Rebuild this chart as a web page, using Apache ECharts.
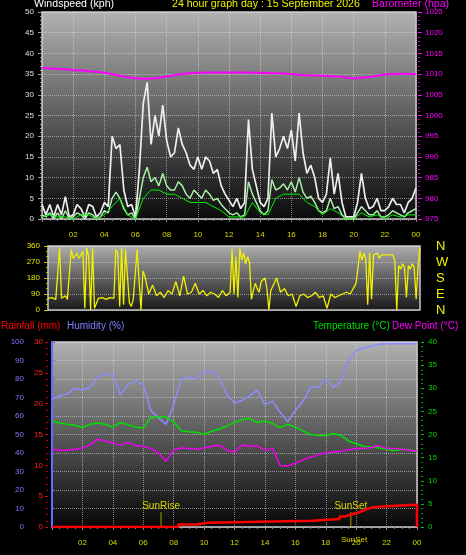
<!DOCTYPE html>
<html><head><meta charset="utf-8">
<script src="https://cdn.jsdelivr.net/npm/echarts@6/dist/echarts.min.js"></script>
<style>html,body{margin:0;padding:0;background:#000;}#c{width:466px;height:555px;}</style>
</head><body><div id="c"></div>
<script>
// ---- Data (hours of day) ----
const gustTimes = Array.from({length: 97}, (_, i) => i / 4);
const windGust = [3.5,1,3.5,0.5,3.5,1,5.4,0.5, 1,3.5,2.5,0.5,3.5,3,0.5,1.5, 4,3,20,17,18,7,3,3.5,
  0.5,12,28,33,18,25,20,27.5, 19,15,16,22,18,16,13,12, 15,12,15,14,11,12,8,6,
  4.5,3,5,2.5,4,24,12,8, 4,3,5,25.6,15,17,20,17, 21.5,14,25.6,16,11,13,10,5,
  4,6,14.7,6,11,4,0.5,0.5, 0.5,4,11,5,2.5,3,5,2, 2,3,5,3.5,3.5,1.5,4,5, 7.5];
const windAvg = [1,0.5,1.5,0,1.5,0,2,0, 0.5,1.5,1,0,1.5,1,0,0.5, 2,1.5,5,6.5,5,2.5,1,1.5,
  0,5,10,12.5,9,10,8,11, 8,7,7,9,8,6,5,7, 6,5,7,6,4.5,5,3.5,2.5,
  1.5,1,1.5,0.5,1,9,6,4, 2,1,2,9.5,7,7.5,8.5,7, 9,6.5,10,6.5,5,5.5,4,2,
  1.5,2,5,2.5,3,1,0,0, 0,1.5,3,2,1,1,2,0.5, 0.5,1,2,1.5,1,0.5,1.5,2, 2.5];
const halfTimes = Array.from({length: 49}, (_, i) => i / 2);
const windSustained = [0.5,1,0.5,0.5,0,1,1,0,1,3,5,1,0,5,7,7,6,6,5,4,4,4,3,2,0.5,0.5,0.5,4,1.5,1,
  5,6,6,6,4,3,1,2.5,1.5,0,0,1.5,0.5,1,0,1,0.5,1,1];
const hourTimes = Array.from({length: 25}, (_, i) => i);
const barometer = [1011.5,1011.3,1011.0,1010.7,1010.3,1009.6,1009.0,1008.9,1009.4,1010.0,1010.3,1010.4,
  1010.4,1010.4,1010.3,1010.2,1010.0,1009.7,1009.6,1009.4,1009.0,1009.3,1009.9,1010.1,1010.0];
const dirTimes = [0,0.125,0.25,0.375,0.5,0.625,0.75,0.875,1,1.125,1.25,1.375,1.5,1.625,1.75,1.875,
  2,2.125,2.25,2.375,2.5,2.625,2.75,2.875,3,3.25,3.5,3.75,4,4.25,4.375,4.5,4.625,4.75,4.875,
  5,5.125,5.25,5.375,5.5,5.625,5.75,5.875,6,6.125,6.25,
  6.5,6.75,7,7.25,7.5,7.75,8,8.25,8.5,8.75,9,9.25,9.5,9.75,10,10.25,10.5,10.75,11,11.25,11.5,11.75,
  11.875,12,12.125,12.25,12.375,12.5,12.625,12.75,12.875,13,13.125,13.25,13.375,13.5,13.625,13.75,
  13.875,14,14.125,14.25,14.375,14.5,
  14.75,15,15.25,15.5,15.75,16,16.25,16.5,16.75,17,17.25,17.5,17.75,18,18.25,18.5,18.75,19,19.25,19.5,
  19.75,19.875,20,20.125,20.25,20.375,20.5,20.625,20.75,20.875,21,21.125,21.25,21.375,21.5,22,22.25,
  22.375,22.5,22.625,22.75,22.875,23,23.125,23.25,23.375,23.5,23.625,23.75,23.875,24];
const windDir = [66,60,70,66,60,70,350,66,70,80,60,70,340,290,300,320,
  290,310,330,10,350,300,0,350,10,66,70,60,70,66,340,320,20,350,30,
  340,350,40,20,60,200,340,350,0,220,190,
  90,140,80,100,70,110,90,160,80,190,90,100,150,90,110,80,100,90,70,110,80,100,
  345,90,300,70,350,280,320,260,300,270,60,110,150,120,100,160,
  150,180,120,0,110,100,
  180,100,120,80,90,20,80,90,70,80,100,70,80,10,90,70,80,90,100,90,
  130,150,140,330,280,320,290,30,320,60,310,300,320,290,310,310,310,
  280,0,250,230,260,240,70,250,230,260,240,60,250,350];
const humidity = [69,71,72,75,74,75.5,81,82.5,82.5,71.5,77,79,77,63,59,55.5,66,80,81,80,84,84,81,71.5,
  67,68.5,71,74,66,68,62,57,63,68,75.5,75.5,80,75.5,79,90,95.5,96.8,97.8,98.8,99,99,99,99,99];
const temperature = [22.9,22.5,22.2,22.0,21.5,22.2,22.5,22.2,21.6,22.6,22.1,21.6,21.4,23.7,23.8,23.8,22.7,
  20.8,20.6,20.5,20.0,20.7,21.2,21.8,22.6,23.2,23.5,22.6,22.9,22.4,21.5,22.2,21.6,20.8,20.0,19.8,19.8,
  20.2,19.8,18.6,18.0,17.4,17.3,17.1,16.8,16.5,16.8,16.7,16.3];
const dewPoint = [16.8,16.6,16.6,16.8,17.1,17.7,19.0,18.6,18.2,17.7,18.3,17.6,17.4,17.0,16.0,14.2,16.6,
  17.1,17.0,16.8,17.1,17.4,17.7,16.6,16.2,17.8,17.4,17.6,16.5,17.0,13.3,13.2,13.8,14.5,15.1,15.6,16.1,
  16.2,16.4,16.7,17.0,17.0,17.2,17.6,17.0,17.0,16.8,16.6,16.4];
const rainTimes = [0,8.3,9.5,10.2,17.1,18.9,19.3,19.6,20.1,20.4,20.7,21.1,22.3,24];
const rainfall = [0,0.4,0.7,1.0,1.3,1.7,2.0,2.3,2.6,2.9,3.2,3.4,3.6,0];
const sunTimes = [7.17, 19.65];
const sunLabels = ['SunRise', 'SunSet'];
const sunMarkHeight = 2.4;
const compass = ['N','E','S','W','N'];

const FONT = '"Liberation Sans", Arial, sans-serif';
const zip = (xs, ys) => xs.map((x, i) => [x, ys[i]]);
const hourLabel = v => { const h = Math.round(v) % 24; return (h < 10 ? '0' : '') + h; };
const plain = v => String(v);
const grad = (a, b, c) => new echarts.graphic.LinearGradient(0, 0, 0, 1, [
  {offset: 0, color: a}, {offset: 0.5, color: b}, {offset: 1, color: c}]);
const dotted = {type: 'dotted', color: 'rgba(225,225,225,0.55)', width: 1};
const TICKFS = 8;

const chart = echarts.init(document.getElementById('c'), null, {renderer: 'canvas'});

function xAxisFor(idx, showLabels) {
  return {
    type: 'value', gridIndex: idx, min: 0, max: 24, interval: 2,
    axisLine: {show: false},
    axisLabel: {show: showLabels, color: '#d8d800', fontSize: TICKFS, fontFamily: FONT, margin: 12,
      formatter: hourLabel, showMinLabel: false},
    axisTick: {show: showLabels, length: 3, lineStyle: {color: '#8a8a8a'}},
    minorTick: {show: showLabels, splitNumber: 4, length: 2, lineStyle: {color: '#8a8a8a'}},
    splitLine: {show: idx !== 1, lineStyle: dotted}
  };
}

const lineS = (name, xi, yi, data, color, width, extra) => Object.assign({
  name, type: 'line', xAxisIndex: xi, yAxisIndex: yi, data, showSymbol: false, symbol: 'none',
  lineStyle: {color, width}, itemStyle: {color}, silent: true
}, extra || {});

const sunSeries = sunTimes.map((t, i) => lineS(sunLabels[i], 2, 5,
  [[t, 0], {value: [t, sunMarkHeight], label: {show: true, formatter: sunLabels[i], position: 'top',
    color: '#d8d800', fontSize: 10, fontFamily: FONT, distance: 1}}], '#a8a000', 1, {showSymbol: true, symbolSize: 0, symbol: 'circle'}));

chart.setOption({
  animation: false,
  backgroundColor: '#000',
  grid: [
    {left: 42, top: 12, width: 374, height: 207, show: true, borderColor: '#c8c8c8', borderWidth: 1.5,
      backgroundColor: grad('#b2b2b2', '#5e5e5e', '#0a0a0a')},
    {left: 48, top: 246, width: 372, height: 64, show: true, borderColor: '#c8c8c8', borderWidth: 1.5,
      backgroundColor: grad('#b0b0b0', '#606060', '#181818')},
    {left: 52, top: 342, width: 365, height: 185, show: true, borderColor: '#c8c8c8', borderWidth: 1.5,
      backgroundColor: grad('#b2b2b2', '#5a5a5a', '#060606')}
  ],
  xAxis: [xAxisFor(0, true), xAxisFor(1, false), xAxisFor(2, true)],
  yAxis: [
    {type: 'value', gridIndex: 0, position: 'left', min: 0, max: 50, interval: 5,
      axisLine: {show: false},
      axisLabel: {color: '#d8e0e8', fontSize: TICKFS, fontFamily: FONT, margin: 8},
      axisTick: {show: true, length: 4, lineStyle: {color: '#9a9a9a'}},
      minorTick: {show: true, splitNumber: 5, length: 2, lineStyle: {color: '#9a9a9a'}},
      splitLine: {show: true, lineStyle: dotted}},
    {type: 'value', gridIndex: 0, position: 'right', min: 975, max: 1025, interval: 5, offset: 2,
      axisLine: {show: false},
      axisLabel: {color: '#ff00ff', fontSize: TICKFS, fontFamily: FONT, margin: 7, formatter: plain},
      axisTick: {show: true, length: 4, lineStyle: {color: '#ff00ff'}},
      minorTick: {show: true, splitNumber: 5, length: 2, lineStyle: {color: '#c000c0'}},
      splitLine: {show: false}},
    {type: 'value', gridIndex: 1, position: 'left', min: 0, max: 360, interval: 90,
      axisLine: {show: false},
      axisLabel: {color: '#e8e800', fontSize: TICKFS, fontFamily: FONT, margin: 8},
      axisTick: {show: true, length: 4, lineStyle: {color: '#c8c800'}},
      minorTick: {show: true, splitNumber: 3, length: 2, lineStyle: {color: '#c8c800'}},
      splitLine: {show: true, lineStyle: dotted}},
    {type: 'value', gridIndex: 1, position: 'right', min: 0, max: 360, interval: 90,
      axisLine: {show: false}, axisTick: {show: false}, splitLine: {show: false},
      axisLabel: {color: '#f0f000', fontSize: 13, fontFamily: FONT, margin: 16,
        formatter: v => compass[Math.round(v / 90)]}},
    {type: 'value', gridIndex: 2, position: 'left', min: 0, max: 100, interval: 10, offset: 22,
      axisLine: {show: true, lineStyle: {color: '#6a6aff', width: 2}},
      axisLabel: {color: '#7c7cff', fontSize: TICKFS, fontFamily: FONT, margin: 6},
      axisTick: {show: true, inside: true, length: 3, lineStyle: {color: '#6a6aff'}},
      minorTick: {show: false},
      splitLine: {show: true, lineStyle: dotted}},
    {type: 'value', gridIndex: 2, position: 'left', min: 0, max: 30, interval: 5, offset: 4,
      axisLine: {show: false},
      axisLabel: {color: '#ff2020', fontSize: TICKFS, fontFamily: FONT, margin: 5},
      axisTick: {show: true, length: 3, lineStyle: {color: '#e00000'}},
      minorTick: {show: true, splitNumber: 5, length: 2, lineStyle: {color: '#c00000'}},
      splitLine: {show: false}},
    {type: 'value', gridIndex: 2, position: 'right', min: 0, max: 40, interval: 5, offset: 4,
      axisLine: {show: false},
      axisLabel: {color: '#00d800', fontSize: TICKFS, fontFamily: FONT, margin: 7},
      axisTick: {show: true, length: 3, lineStyle: {color: '#00c000'}},
      minorTick: {show: true, splitNumber: 5, length: 2, lineStyle: {color: '#00a000'}},
      splitLine: {show: false}}
  ],
  series: [
    lineS('Gust', 0, 0, zip(gustTimes, windGust), '#eeeeee', 1.7),
    lineS('Average', 0, 0, zip(gustTimes, windAvg), '#a8f0a8', 1.5),
    lineS('Sustained', 0, 0, zip(halfTimes, windSustained), '#00f000', 1),
    lineS('Barometer', 0, 1, zip(hourTimes, barometer), '#ff00ff', 2, {smooth: 0.3}),
    lineS('Direction', 1, 2, zip(dirTimes, windDir), '#f0f000', 1.3),
    lineS('Humidity', 2, 4, zip(halfTimes, humidity), '#8c8cff', 1.5),
    lineS('Temperature', 2, 6, zip(halfTimes, temperature), '#00e000', 1.5),
    lineS('Dew Point', 2, 6, zip(halfTimes, dewPoint), '#f000f0', 1.5),
    lineS('Rainfall', 2, 5, zip(rainTimes, rainfall), '#ff0000', 2.5, {step: 'end', z: 4})
  ].concat(sunSeries),
  graphic: [
    {type: 'text', left: 34, top: -1, style: {text: 'Windspeed (kph)', fill: '#ffffff', font: '10.6px ' + FONT}},
    {type: 'text', left: 172, top: -1, style: {text: '24 hour graph day : 15 September 2026', fill: '#f0f000', font: '10.6px ' + FONT}},
    {type: 'text', left: 372, top: -1, style: {text: 'Barometer (hpa)', fill: '#ff00ff', font: '10.6px ' + FONT}},
    {type: 'text', left: 1, top: 321, style: {text: 'Rainfall (mm)', fill: '#ff0000', font: '10px ' + FONT}},
    {type: 'text', left: 67, top: 321, style: {text: 'Humidity (%)', fill: '#8080ff', font: '10px ' + FONT}},
    {type: 'text', left: 313, top: 321, style: {text: 'Temperature (°C)', fill: '#00e000', font: '10px ' + FONT}},
    {type: 'text', left: 392, top: 321, style: {text: 'Dew Point (°C)', fill: '#ff00ff', font: '10px ' + FONT}},
    {type: 'text', left: 341, top: 536, style: {text: 'SunSet', fill: '#d8d800', font: '8px ' + FONT}}
  ]
});
</script></body></html>
